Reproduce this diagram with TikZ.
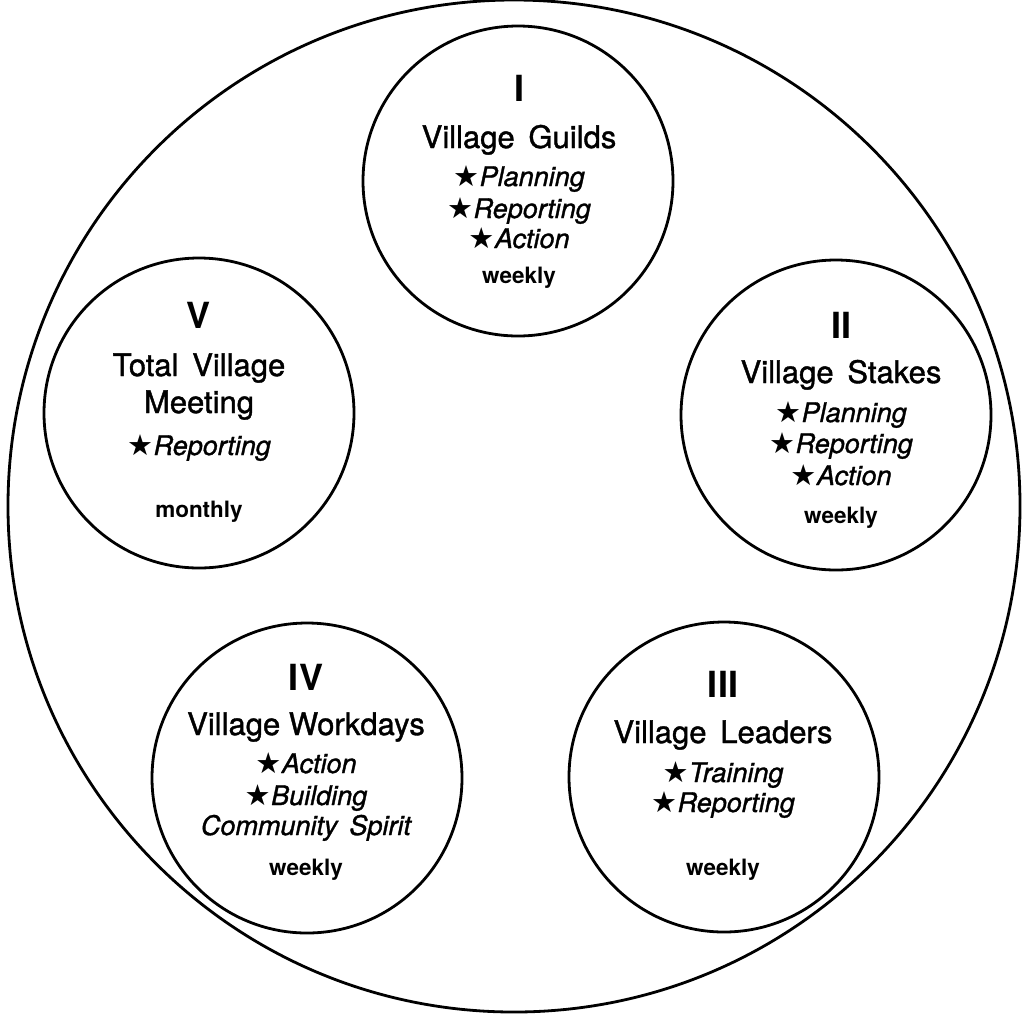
\documentclass[tikz,border=0pt]{standalone}
\usepackage{fontspec}
\setmainfont{TeX Gyre Heros}
\newfontfamily\medfont{TeX Gyre Heros}[FakeBold=1.2]
\newfontfamily\starfont{DejaVu Sans}
\usetikzlibrary{calc}
\newcommand\starmark{{\starfont\fontsize{29}{29}\selectfont ★}\kern0.5pt}
\begin{document}
\begin{tikzpicture}[x=1pt,y=-1pt,
  outerring/.style={draw, circle, line width=2.8pt, minimum size=1012pt, inner sep=0pt},
  ring/.style={draw, circle, line width=2.8pt, minimum size=310pt, inner sep=0pt},
  numeral/.style={anchor=base, inner sep=0pt, font=\fontsize{36}{36}\selectfont\bfseries},
  heading/.style={anchor=base, inner sep=0pt, font=\medfont\fontsize{31}{31}\selectfont},
  entry/.style={anchor=base, inner sep=0pt, font=\medfont\fontsize{27}{27}\selectfont\itshape},
  freq/.style={anchor=base, inner sep=0pt, font=\fontsize{22.5}{22.5}\selectfont\bfseries}]
\useasboundingbox (0,0) rectangle (1027,1013);

% outer boundary
\node[outerring] (village) at (514,506) {};

% the five meeting circles
\node[ring] (c1) at (518,181) {};
\node[ring] (c2) at (836,415) {};
\node[ring] (c3) at (724,777) {};
\node[ring] (c4) at (307,778) {};
\node[ring] (c5) at (199,413) {};

% I
\node[numeral] (n1) at ($(c1)+(1,-80)$) {I};
\node[heading] (h1) at ($(c1)+(1,-33)$) {Village\, Guilds};
\node[entry] (e1a) at ($(c1)+(1,5)$) {\starmark Planning};
\node[entry] (e1b) at ($(c1)+(1,37)$) {\starmark Reporting};
\node[entry] (e1c) at ($(c1)+(1,67)$) {\starmark Action};
\node[freq] (f1) at ($(c1)+(1,102)$) {weekly};

% II
\node[numeral] (n2) at ($(c2)+(5,-77)$) {II};
\node[heading] (h2) at ($(c2)+(5,-32)$) {Village\, Stakes};
\node[entry] (e2a) at ($(c2)+(5,7)$) {\starmark Planning};
\node[entry] (e2b) at ($(c2)+(5,38)$) {\starmark Reporting};
\node[entry] (e2c) at ($(c2)+(5,70)$) {\starmark Action};
\node[freq] (f2) at ($(c2)+(5,108)$) {weekly};

% III
\node[numeral] (n3) at ($(c3)+(-1,-80)$) {III};
\node[heading] (h3) at ($(c3)+(-1,-34)$) {Village\, Leaders};
\node[entry] (e3a) at ($(c3)+(-1,5)$) {\starmark Training};
\node[entry] (e3b) at ($(c3)+(-1,35)$) {\starmark Reporting};
\node[freq] (f3) at ($(c3)+(-1,98)$) {weekly};

% IV
\node[numeral] (n4) at ($(c4)+(-1,-88)$) {IV};
\node[heading] (h4) at ($(c4)+(-1,-43)$) {Village Workdays};
\node[entry] (e4a) at ($(c4)+(-1,-5)$) {\starmark Action};
\node[entry] (e4b) at ($(c4)+(-1,27)$) {\starmark Building};
\node[entry] (e4c) at ($(c4)+(-1,57)$) {Community\, Spirit};
\node[freq] (f4) at ($(c4)+(-1,97)$) {weekly};

% V
\node[numeral] (n5) at ($(c5)+(0,-85)$) {V};
\node[heading] (h5) at ($(c5)+(0,-37)$) {Total\, Village};
\node[heading] (h5b) at ($(c5)+(0,0)$) {Meeting};
\node[entry] (e5a) at ($(c5)+(0,42)$) {\starmark Reporting};
\node[freq] (f5) at ($(c5)+(0,104)$) {monthly};
\end{tikzpicture}
\end{document}
